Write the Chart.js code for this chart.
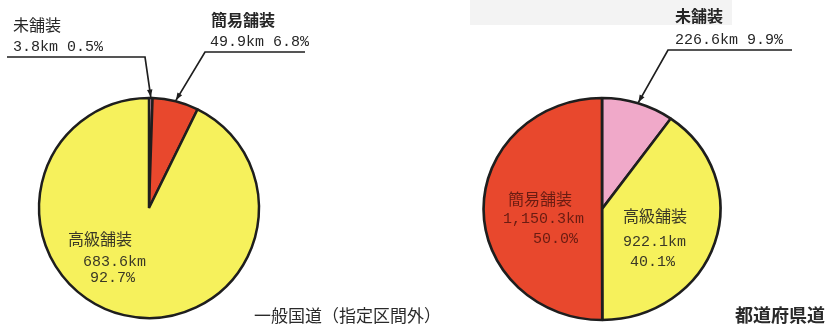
<!DOCTYPE html>
<html lang="ja">
<head>
<meta charset="utf-8">
<script src="https://cdn.jsdelivr.net/npm/chart.js@4.4.1/dist/chart.umd.min.js"></script>
<style>
  body { margin: 0; background: #fff; }
  #wrap { position: relative; width: 829px; height: 332px; overflow: hidden; }
  #wrap canvas { position: absolute; left: 0; top: 0; }
  .shade { position: absolute; left: 470px; top: 0; width: 262px; height: 25px; background: #f3f3f3; }
</style>
</head>
<body>
<div id="wrap">
  <div class="shade"></div>
  <canvas id="pieKokudo" width="829" height="332"></canvas>
  <canvas id="pieTodofuken" width="829" height="332"></canvas>
</div>
<script>
// 一般国道（指定区間外）
const kokudoLabels = ['未舗装', '簡易舗装', '高級舗装'];
const kokudoKm = [3.8, 49.9, 683.6];
const kokudoPct = [0.5, 6.8, 92.7];

// 都道府県道
const todofukenLabels = ['未舗装', '高級舗装', '簡易舗装'];
const todofukenKm = [226.6, 922.1, 1150.3];
const todofukenPct = [9.9, 40.1, 50.0];

const captions = ['一般国道（指定区間外）', '都道府県道'];

const colorOf = { '未舗装': '#f0a9c9', '簡易舗装': '#e8482d', '高級舗装': '#f6f15c' };

const JP = '"Noto Sans CJK JP", sans-serif';
const MONO = '"Liberation Mono", "DejaVu Sans Mono", monospace';
const fJp = '16px ' + JP;
const fJpBold = 'bold 16px ' + JP;
const fNum = '15px ' + MONO;

const km = (v) => v.toLocaleString('en-US', { minimumFractionDigits: 1, maximumFractionDigits: 1 }) + 'km';
const pct = (v) => v.toFixed(1) + '%';

// 横方向に少し広げた円（楕円）で描く
const stretchPlugin = {
  id: 'stretch',
  beforeDatasetsDraw(chart, args, opts) {
    const sx = opts.x || 1;
    const arc = chart.getDatasetMeta(0).data[0];
    const ctx = chart.ctx;
    ctx.save();
    ctx.translate(arc.x, arc.y);
    ctx.scale(sx, 1);
    ctx.translate(-arc.x, -arc.y);
  },
  afterDatasetsDraw(chart) {
    chart.ctx.restore();
  }
};

// 文字と引出線
const calloutPlugin = {
  id: 'callouts',
  afterDraw(chart, args, opts) {
    const ctx = chart.ctx;
    const arcs = chart.getDatasetMeta(0).data;
    const sx = (chart.options.plugins.stretch && chart.options.plugins.stretch.x) || 1;
    ctx.save();
    (opts.items || []).forEach(item => {
      item.lines.forEach(l => {
        ctx.font = l.font;
        ctx.fillStyle = item.color || '#262626';
        ctx.textBaseline = 'alphabetic';
        ctx.textAlign = 'left';
        ctx.fillText(l.text, l.x, l.y);
      });
      if (!item.leader) return;
      const a = arcs[item.index];
      const mid = (a.startAngle + a.endAngle) / 2;
      const r = a.outerRadius + 1;
      const tx = a.x + Math.cos(mid) * r * sx;
      const ty = a.y + Math.sin(mid) * r;
      const { x0, x1, y } = item.leader;
      ctx.strokeStyle = '#1e1e1e';
      ctx.lineWidth = 1.7;
      ctx.beginPath();
      ctx.moveTo(x0, y);
      ctx.lineTo(x1, y);
      ctx.lineTo(tx, ty);
      ctx.stroke();
      // 矢じり
      const ang = Math.atan2(ty - y, tx - x1);
      ctx.fillStyle = '#1e1e1e';
      ctx.beginPath();
      ctx.moveTo(tx, ty);
      ctx.lineTo(tx - 8 * Math.cos(ang - 0.35), ty - 8 * Math.sin(ang - 0.35));
      ctx.lineTo(tx - 8 * Math.cos(ang + 0.35), ty - 8 * Math.sin(ang + 0.35));
      ctx.closePath();
      ctx.fill();
    });
    if (opts.caption) {
      const c = opts.caption;
      ctx.font = c.font;
      ctx.fillStyle = '#2a2a2a';
      ctx.fillText(c.text, c.x, c.y);
    }
    ctx.restore();
  }
};

function pieConfig(labels, values, padding, radius, plugins) {
  return {
    type: 'pie',
    data: {
      labels: labels,
      datasets: [{
        data: values,
        backgroundColor: labels.map(l => colorOf[l]),
        borderColor: '#1e1e1e',
        borderWidth: 2.5
      }]
    },
    options: {
      responsive: false,
      animation: false,
      events: [],
      radius: radius,
      layout: { padding: padding },
      plugins: Object.assign({ legend: { display: false }, tooltip: { enabled: false } }, plugins)
    },
    plugins: [stretchPlugin, calloutPlugin]
  };
}

new Chart(document.getElementById('pieKokudo'), pieConfig(
  kokudoLabels, kokudoKm,
  { left: 39, right: 570, top: 98, bottom: 14 }, 110,
  {
    callouts: {
      items: [
        { index: 0, leader: { x0: 7, x1: 145, y: 57 }, lines: [
          { text: kokudoLabels[0], x: 13, y: 31, font: fJp },
          { text: km(kokudoKm[0]) + ' ' + pct(kokudoPct[0]), x: 13, y: 51, font: fNum }
        ] },
        { index: 1, leader: { x0: 305, x1: 205, y: 52 }, lines: [
          { text: kokudoLabels[1], x: 211, y: 26, font: fJpBold },
          { text: km(kokudoKm[1]) + ' ' + pct(kokudoPct[1]), x: 210, y: 46, font: fNum }
        ] },
        { index: 2, color: '#3a3826', lines: [
          { text: kokudoLabels[2], x: 68, y: 245, font: fJp },
          { text: km(kokudoKm[2]), x: 83, y: 266, font: fNum },
          { text: pct(kokudoPct[2]), x: 90, y: 282, font: fNum }
        ] }
      ],
      caption: { text: captions[0], x: 254, y: 322, font: '17px ' + JP }
    }
  }
));

new Chart(document.getElementById('pieTodofuken'), pieConfig(
  todofukenLabels, todofukenKm,
  { left: 491, right: 116, top: 98, bottom: 12 }, 111,
  {
    stretch: { x: 1.067 },
    callouts: {
      items: [
        { index: 0, leader: { x0: 792, x1: 668, y: 50 }, lines: [
          { text: todofukenLabels[0], x: 675, y: 22, font: fJpBold },
          { text: km(todofukenKm[0]) + ' ' + pct(todofukenPct[0]), x: 675, y: 44, font: fNum }
        ] },
        { index: 1, color: '#3a3826', lines: [
          { text: todofukenLabels[1], x: 623, y: 222, font: fJp },
          { text: km(todofukenKm[1]), x: 623, y: 246, font: fNum },
          { text: pct(todofukenPct[1]), x: 630, y: 266, font: fNum }
        ] },
        { index: 2, color: '#6a1c12', lines: [
          { text: todofukenLabels[2], x: 508, y: 205, font: fJp },
          { text: km(todofukenKm[2]), x: 503, y: 223, font: fNum },
          { text: pct(todofukenPct[2]), x: 533, y: 243, font: fNum }
        ] }
      ],
      caption: { text: captions[1], x: 735, y: 322, font: 'bold 18px ' + JP }
    }
  }
));
</script>
</body>
</html>
